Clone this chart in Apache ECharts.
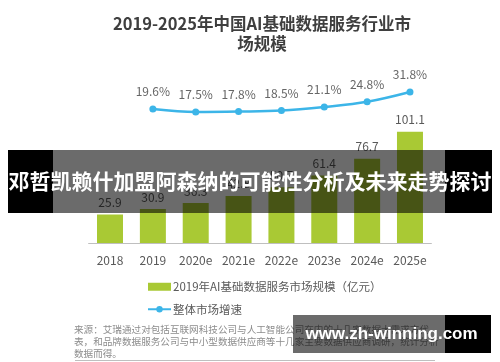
<!DOCTYPE html>
<html>
<head>
<meta charset="utf-8">
<script src="https://cdn.jsdelivr.net/npm/echarts@6/dist/echarts.min.js"></script>
<style>
html,body{margin:0;padding:0;background:#fff;}
#chart{width:500px;height:362px;}
</style>
</head>
<body>
<div id="chart"></div>
<script>
const categories = ['2018', '2019', '2020e', '2021e', '2022e', '2023e', '2024e', '2025e'];
const marketSize = [25.9, 30.9, 36.3, 42.8, 50.7, 61.4, 76.7, 101.1];
const growthRate = [null, 19.6, 17.5, 17.8, 18.5, 21.1, 24.8, 31.8];
const barName = '2019年AI基础数据服务市场规模（亿元）';
const lineName = '整体市场增速';
const titleText = '2019-2025年中国AI基础数据服务行业市\n场规模';
const sourceLines = [
  '来源：艾瑞通过对包括互联网科技公司与人工智能公司在内的十几家数据大需求方代',
  '表，和品牌数据服务公司与中小型数据供应商等十几家主要数据供应商调研，统计分析',
  '数据而得。'
];
const bannerText = '邓哲凯赖什加盟阿森纳的可能性分析及未来走势探讨';
const watermarkText = 'www.zh-winning.com';

const FF = '"Noto Sans CJK SC", "Noto Sans", sans-serif';
const chart = echarts.init(document.getElementById('chart'));

const Z = 1000;
const option = {
  backgroundColor: '#fff',
  animation: false,
  textStyle: { fontFamily: FF },
  title: {
    text: titleText,
    left: 257,
    top: 9,
    textAlign: 'center',
    textStyle: { fontFamily: FF, fontSize: 16.5, fontWeight: 'bold', color: '#3f3f3f', lineHeight: 20 }
  },
  legend: {
    orient: 'vertical',
    left: 142,
    top: 276,
    itemWidth: 23,
    itemHeight: 8,
    itemGap: 11,
    textStyle: { fontFamily: FF, fontSize: 11.5, color: '#595959', padding: [0, 0, 0, -3] },
    data: [
      { name: barName, icon: 'rect' },
      { name: lineName }
    ]
  },
  grid: [
    { left: 88.6, right: 68.6, top: 111, height: 132 },
    { left: 88.6, right: 68.6, top: 80.5, height: 42 }
  ],
  xAxis: [
    {
      type: 'category', gridIndex: 0, data: categories,
      axisLine: { lineStyle: { color: '#bfbfbf', width: 1 } },
      axisTick: { show: false },
      axisLabel: { interval: 0, color: '#595959', fontSize: 12, margin: 11, fontFamily: FF }
    },
    {
      type: 'category', gridIndex: 1, data: categories, show: false
    }
  ],
  yAxis: [
    { type: 'value', gridIndex: 0, min: 0, max: 120, show: false, splitLine: { show: false } },
    { type: 'value', gridIndex: 1, min: 10, max: 40, show: false, splitLine: { show: false } }
  ],
  series: [
    {
      name: barName,
      type: 'bar',
      xAxisIndex: 0, yAxisIndex: 0,
      data: marketSize,
      barWidth: 26,
      itemStyle: { color: '#a9c934' },
      label: { show: true, position: 'top', distance: 6, color: '#595959', fontSize: 12, fontFamily: FF }
    },
    {
      name: lineName,
      type: 'line',
      xAxisIndex: 1, yAxisIndex: 1,
      data: growthRate,
      smooth: 0.35,
      symbol: 'circle',
      symbolSize: 7,
      lineStyle: { color: '#3cb5e8', width: 2.5 },
      itemStyle: { color: '#3cb5e8' },
      label: { show: true, position: 'top', distance: 8, color: '#666', fontSize: 12, fontFamily: FF, formatter: '{c}%' }
    }
  ],
  graphic: {
    elements: sourceLines.map((t, i) => ({
      type: 'text', z: 50,
      x: 74, y: 325 + i * 12,
      style: { text: t, fontSize: 9.6, fontFamily: FF, fill: '#8c8c8c' }
    })).concat([
      { type: 'line', z: 50, shape: { x1: 75, y1: 360.5, x2: 435, y2: 360.5 }, style: { stroke: '#bfbfbf', lineWidth: 1 } },
      { type: 'rect', z: Z, shape: { x: 8, y: 150, width: 45, height: 63 }, style: { fill: '#000' } },
      { type: 'rect', z: Z, shape: { x: 53, y: 150, width: 392, height: 63 }, style: { fill: 'rgba(0,0,0,0.58)' } },
      { type: 'rect', z: Z, shape: { x: 445, y: 150, width: 47, height: 63 }, style: { fill: '#000' } },
      { type: 'text', z: Z + 1, x: 250, y: 181.5, style: { text: bannerText, fontSize: 21, fontWeight: 'bold', fontFamily: FF, fill: '#fff', align: 'center', verticalAlign: 'middle' } },
      { type: 'rect', z: Z, shape: { x: 293, y: 315, width: 152, height: 38 }, style: { fill: 'rgba(0,0,0,0.58)' } },
      { type: 'rect', z: Z, shape: { x: 445, y: 315, width: 46, height: 38 }, style: { fill: '#000' } },
      { type: 'text', z: Z + 1, x: 391.5, y: 334, style: { text: watermarkText, fontSize: 17, fontWeight: 'bold', fontFamily: '"Liberation Sans", Arial, sans-serif', fill: '#fff', align: 'center', verticalAlign: 'middle' } }
    ])
  }
};
chart.setOption(option);
</script>
</body>
</html>
